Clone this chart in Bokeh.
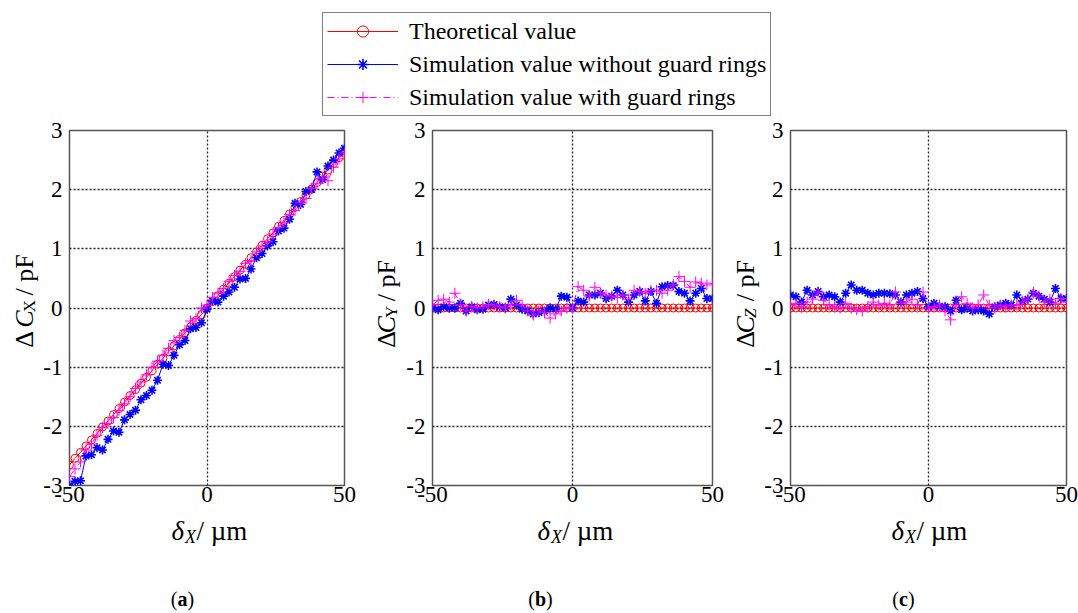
from math import pi
from bokeh.plotting import figure
from bokeh.models import Range1d, Legend, LegendItem, FixedTicker
from bokeh.layouts import column, row
from bokeh.core.properties import value
from bokeh.embed import file_html
from bokeh.resources import INLINE

FONT = "Liberation Serif"

# displacement delta_X (um)
x_um = [-50, -48, -46, -44, -42, -40, -38, -36, -34, -32, -30, -28, -26, -24, -22, -20, -18,
        -16, -14, -12, -10, -8, -6, -4, -2, 0, 2, 4, 6, 8, 10, 12, 14, 16, 18, 20, 22, 24,
        26, 28, 30, 32, 34, 36, 38, 40, 42, 44, 46, 48, 50]

# (a) Delta C_X
theo_a = [-2.65, -2.54, -2.44, -2.33, -2.23, -2.12, -2.01, -1.91, -1.80, -1.70, -1.59, -1.48,
          -1.38, -1.27, -1.17, -1.06, -0.95, -0.85, -0.74, -0.64, -0.53, -0.42, -0.32, -0.21,
          -0.11, 0.00, 0.11, 0.21, 0.32, 0.42, 0.53, 0.64, 0.74, 0.85, 0.95, 1.06, 1.17, 1.27,
          1.38, 1.48, 1.59, 1.70, 1.80, 1.91, 2.01, 2.12, 2.23, 2.33, 2.44, 2.54, 2.65]
blue_a = [-3.00, -2.93, -2.92, -2.50, -2.48, -2.36, -2.40, -2.22, -2.08, -2.10, -1.89, -1.80,
          -1.73, -1.55, -1.48, -1.39, -1.22, -0.95, -0.97, -0.80, -0.62, -0.55, -0.35, -0.33,
          -0.25, -0.02, 0.12, 0.10, 0.20, 0.27, 0.35, 0.49, 0.50, 0.66, 0.85, 0.92, 1.05, 1.12,
          1.30, 1.35, 1.50, 1.77, 1.75, 1.97, 2.00, 2.30, 2.17, 2.40, 2.50, 2.62, 2.70]
mag_a = [-2.85, -2.72, -2.60, -2.40, -2.30, -2.15, -2.02, -1.95, -1.85, -1.73, -1.62, -1.50,
         -1.36, -1.25, -1.13, -1.00, -0.90, -0.80, -0.68, -0.55, -0.50, -0.38, -0.22, -0.18,
         0.00, 0.05, 0.18, 0.25, 0.33, 0.45, 0.55, 0.62, 0.75, 0.80, 0.95, 1.05, 1.12, 1.25,
         1.36, 1.45, 1.58, 1.65, 1.78, 1.85, 2.02, 2.10, 2.20, 2.15, 2.38, 2.52, 2.62]

# (b) Delta C_Y
theo_b = [0.0, 0.0, 0.0, 0.0, 0.0, 0.0, 0.0, 0.0, 0.0, 0.0, 0.0, 0.0, 0.0, 0.0, 0.0, 0.0, 0.0,
          0.0, 0.0, 0.0, 0.0, 0.0, 0.0, 0.0, 0.0, 0.0, 0.0, 0.0, 0.0, 0.0, 0.0, 0.0, 0.0, 0.0,
          0.0, 0.0, 0.0, 0.0, 0.0, 0.0, 0.0, 0.0, 0.0, 0.0, 0.0, 0.0, 0.0, 0.0, 0.0, 0.0, 0.0]
blue_b = [0.00, -0.03, 0.02, 0.00, 0.00, 0.08, -0.05, 0.02, -0.03, -0.02, 0.05, 0.06, 0.02,
          0.00, 0.15, 0.05, -0.02, -0.05, -0.10, -0.08, -0.05, 0.00, -0.02, 0.20, 0.18, 0.00,
          0.12, 0.10, 0.22, 0.22, 0.25, 0.16, 0.20, 0.30, 0.22, 0.10, 0.22, 0.28, 0.12, 0.28,
          0.08, 0.36, 0.38, 0.38, 0.28, 0.25, 0.12, 0.25, 0.33, 0.16, 0.16]
mag_b = [0.05, 0.13, 0.15, 0.10, 0.25, 0.05, -0.05, 0.03, 0.00, 0.02, 0.06, 0.05, 0.02, 0.00,
         0.05, 0.13, 0.05, -0.05, -0.12, -0.05, -0.08, -0.17, -0.10, -0.05, 0.00, 0.00, 0.36,
         0.30, 0.20, 0.35, 0.25, 0.22, 0.20, 0.18, 0.22, 0.15, 0.30, 0.28, 0.25, 0.30, 0.30,
         0.25, 0.30, 0.40, 0.53, 0.45, 0.35, 0.44, 0.42, 0.39, 0.42]

# (c) Delta C_Z
theo_c = [0.0, 0.0, 0.0, 0.0, 0.0, 0.0, 0.0, 0.0, 0.0, 0.0, 0.0, 0.0, 0.0, 0.0, 0.0, 0.0, 0.0,
          0.0, 0.0, 0.0, 0.0, 0.0, 0.0, 0.0, 0.0, 0.0, 0.0, 0.0, 0.0, 0.0, 0.0, 0.0, 0.0, 0.0,
          0.0, 0.0, 0.0, 0.0, 0.0, 0.0, 0.0, 0.0, 0.0, 0.0, 0.0, 0.0, 0.0, 0.0, 0.0, 0.0, 0.0]
blue_c = [0.22, 0.19, 0.10, 0.30, 0.22, 0.28, 0.19, 0.22, 0.19, 0.10, 0.25, 0.39, 0.30, 0.30,
          0.25, 0.22, 0.25, 0.25, 0.24, 0.22, 0.10, 0.22, 0.25, 0.28, 0.16, 0.02, 0.08, 0.03,
          0.02, -0.05, 0.13, -0.03, 0.00, -0.05, -0.03, -0.05, -0.10, 0.02, 0.05, 0.08, 0.05,
          0.22, 0.12, 0.15, 0.25, 0.20, 0.15, 0.10, 0.33, 0.16, 0.16]
mag_c = [0.05, 0.08, 0.02, 0.10, 0.15, 0.27, 0.13, 0.05, 0.02, 0.00, 0.08, 0.00, -0.03, -0.05,
         0.02, 0.10, 0.05, 0.08, 0.05, 0.27, 0.08, 0.10, 0.15, 0.05, 0.27, 0.00, 0.02, 0.05,
         -0.05, -0.20, 0.05, 0.19, 0.08, 0.00, 0.05, 0.22, 0.05, 0.00, 0.05, 0.02, 0.05, 0.05,
         0.10, 0.15, 0.27, 0.20, 0.10, 0.15, 0.08, 0.16, 0.10]

x_ticks = [-50, 0, 50]
y_ticks = [-3, -2, -1, 0, 1, 2, 3]
x_tick_labels = {-50: "-50", 0: "0", 50: "50"}
y_tick_labels = {-3: "-3", -2: "-2", -1: "-1", 0: "0", 1: "1", 2: "2", 3: "3"}
legend_labels = ["Theoretical value", "Simulation value without guard rings",
                 "Simulation value with guard rings"]

PAGE_H = 613
TOP_H = 116          # legend strip
ROW_H = 397          # panels row
BOT_H = PAGE_H - TOP_H - ROW_H
YL_SIZE = 26         # y label font size
YL_SUB = 17


def plain_fig(width, height, x0, y0):
    """Helper canvas whose data units are page pixels (x right, y up from page bottom)."""
    f = figure(width=width, height=height, output_backend="svg", toolbar_location=None,
               x_range=Range1d(x0, x0 + width), y_range=Range1d(y0, y0 + height),
               min_border_left=0, min_border_right=0, min_border_top=0, min_border_bottom=0,
               x_axis_location=None, y_axis_location=None)
    f.outline_line_color = None
    f.grid.visible = False
    f.background_fill_color = "white"
    f.border_fill_color = "white"
    return f


def put(f, px, py, text, size, style="normal", angle=0.0, align="left"):
    f.text(x=[px], y=[PAGE_H - py], text=[text], angle=angle,
           text_font=value(FONT), text_font_size=value(f"{size}px"),
           text_font_style=value(style), text_align=value(align),
           text_baseline=value("middle"), text_color="black")


def draw_series(p, theo, blue, mag):
    r1 = p.line(x_um, theo, line_color="red", line_width=1)
    s1 = p.scatter(x_um, theo, marker="circle", size=8, fill_color=None,
                   line_color="red", line_width=1)
    r2 = p.line(x_um, blue, line_color="blue", line_width=1)
    s2 = p.scatter(x_um, blue, marker="asterisk", size=9, line_color="blue", line_width=1.6)
    r3 = p.line(x_um, mag, line_color="magenta", line_width=1, line_dash="7 3 1 3")
    s3 = p.scatter(x_um, mag, marker="cross", size=11, line_color="magenta", line_width=1)
    return [(r1, s1), (r2, s2), (r3, s3)]


def make_panel(width, left, right, theo, blue, mag):
    p = figure(width=width, height=ROW_H, x_range=Range1d(-50, 50), y_range=Range1d(-3, 3),
               output_backend="svg", toolbar_location=None,
               min_border_left=left, min_border_right=right,
               min_border_top=14, min_border_bottom=ROW_H - 14 - 355)
    p.background_fill_color = "white"
    p.border_fill_color = "white"
    p.outline_line_color = "#555555"
    p.outline_line_width = 1.5
    p.xaxis.ticker = FixedTicker(ticks=x_ticks)
    p.yaxis.ticker = FixedTicker(ticks=y_ticks)
    p.xaxis.major_label_overrides = x_tick_labels
    p.yaxis.major_label_overrides = y_tick_labels
    for ax in (p.xaxis[0], p.yaxis[0]):
        ax.axis_line_color = None
        ax.major_tick_line_color = None
        ax.minor_tick_line_color = None
        ax.major_tick_in = 0
        ax.major_tick_out = 0
        ax.minor_tick_in = 0
        ax.minor_tick_out = 0
        ax.major_label_text_font = FONT
        ax.major_label_text_font_size = "23px"
        ax.major_label_text_color = "black"
    p.xaxis.major_label_standoff = 1
    p.yaxis.major_label_standoff = 7
    for g in (p.xgrid[0], p.ygrid[0]):
        g.grid_line_color = "#222222"
        g.grid_line_dash = "2 2"
        g.grid_line_width = 1.3
    p.xgrid.ticker = FixedTicker(ticks=x_ticks)
    p.ygrid.ticker = FixedTicker(ticks=y_ticks)
    draw_series(p, theo, blue, mag)
    return p


def make_ylabel(x0, width, cx, sub, sub_style, gap):
    f = plain_fig(width, ROW_H, x0, BOT_H)
    s = YL_SIZE
    y = 359.0
    put(f, cx, y, "\u0394", s, angle=pi / 2)
    y -= 0.613 * s + (0.25 * s if gap else 0.0)
    put(f, cx, y, "C", s, style="italic", angle=pi / 2)
    y -= 0.667 * s
    put(f, cx + 5, y, sub, YL_SUB, style=sub_style, angle=pi / 2)
    y -= 0.722 * YL_SUB + 0.25 * s
    put(f, cx, y, "/ pF", s, angle=pi / 2)
    return f


# panels row: [ylabel a][panel a][ylabel b][panel b][ylabel c][panel c]
yl_a = make_ylabel(0, 40, 24, "X", "normal", True)
pa = make_panel(330, 28, 26, theo_a, blue_a, mag_a)        # frame x 68..344
yl_b = make_ylabel(370, 32, 386, "Y", "normal", False)
pb = make_panel(328, 30, 18, theo_b, blue_b, mag_b)        # frame x 432..712
yl_c = make_ylabel(730, 31, 745, "Z", "italic", False)
pc = make_panel(317, 26, 12, theo_c, blue_c, mag_c)        # frame x 787..1066

# bottom strip: x-axis labels and panel tags
bot = plain_fig(1078, BOT_H, 0, 0)
for xc in (209, 575, 929):
    x0 = xc - 38
    put(bot, x0, 530, "\u03b4", 27, style="italic")
    put(bot, x0 + 13.5, 536, "X", 18, style="italic")
    put(bot, x0 + 25, 530, "/ \u00b5m", 27)
for tx, tag, tw in ((182, "a", 10.0), (540, "b", 11.0), (903, "c", 9.0)):
    put(bot, tx - tw / 2, 598, "(", 20, align="right")
    put(bot, tx, 598, tag, 20, style="bold", align="center")
    put(bot, tx + tw / 2, 598, ")", 20, align="left")

# legend strip on top
top = figure(width=1078, height=TOP_H, x_range=Range1d(-50, 50), y_range=Range1d(100, 101),
             output_backend="svg", toolbar_location=None,
             min_border_left=322, min_border_right=0, min_border_top=12, min_border_bottom=0,
             x_axis_location=None, y_axis_location=None)
top.outline_line_color = None
top.grid.visible = False
pairs = draw_series(top, theo_a, blue_a, mag_a)
legend = Legend(items=[LegendItem(label=lbl, renderers=list(pr))
                       for lbl, pr in zip(legend_labels, pairs)],
                location="top_left", margin=0, padding=4, spacing=5,
                glyph_width=71, glyph_height=28, label_standoff=11, label_height=28,
                label_text_font=FONT, label_text_font_size="24px", label_text_color="black",
                border_line_color="black", border_line_width=1.2,
                background_fill_color="white", background_fill_alpha=1.0)
top.add_layout(legend)

layout = column(top, row(yl_a, pa, yl_b, pb, yl_c, pc, spacing=0), row(bot), spacing=0)
open("out.html", "w").write(file_html(layout, INLINE))
